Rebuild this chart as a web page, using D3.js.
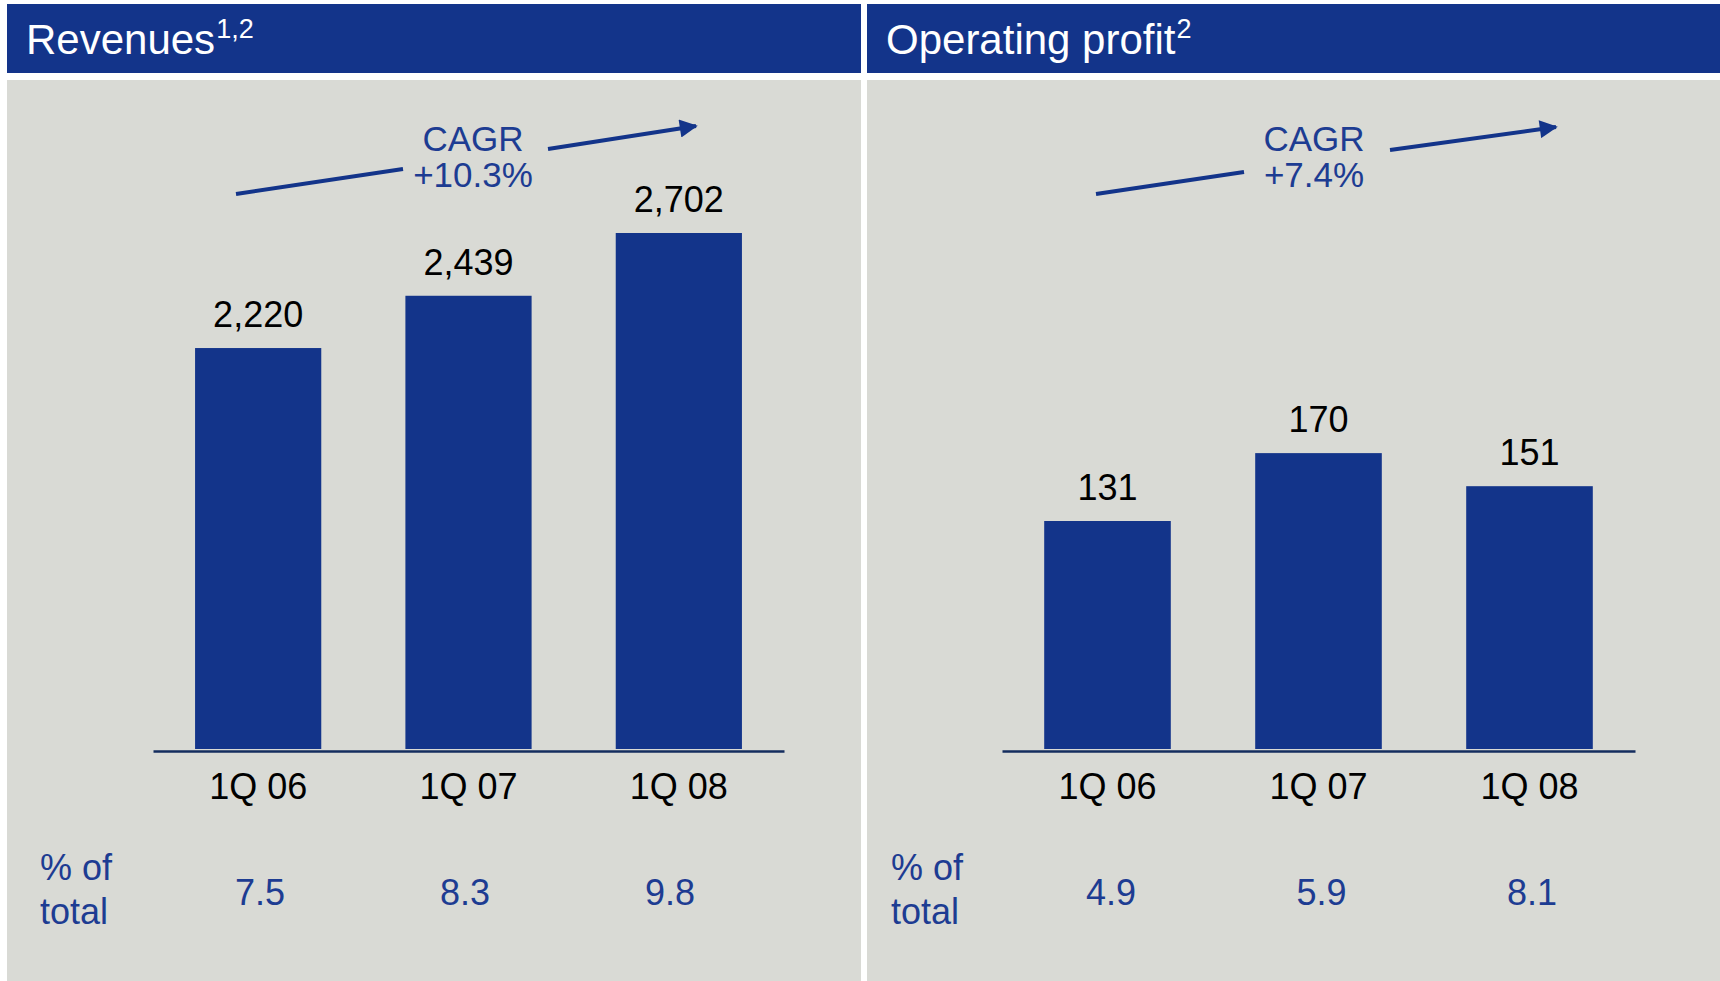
<!DOCTYPE html>
<html>
<head>
<meta charset="utf-8">
<script src="https://cdn.jsdelivr.net/npm/d3@7"></script>
<style>
  body { margin: 0; background: #fff; }
  svg text { font-family: "Liberation Sans", Arial, sans-serif; }
</style>
</head>
<body>
<div id="chart"></div>
<script>
const width = 1720;
const height = 981;

// data
const categories = ["1Q 06", "1Q 07", "1Q 08"];
const revenues = [2220, 2439, 2702];
const operatingProfit = [131, 170, 151];
const revenueShare = ["7.5", "8.3", "9.8"];
const profitShare = ["4.9", "5.9", "8.1"];
const cagrLabels = ["+10.3%", "+7.4%"];

const blue = "#13348a";
const textBlue = "#1d3c92";
const panelBg = "#d9dad5";

const svg = d3.select("#chart")
  .append("svg")
  .attr("width", width)
  .attr("height", height);

svg.append("defs").append("marker")
  .attr("id", "arrow")
  .attr("viewBox", "0 0 10 10")
  .attr("refX", 9)
  .attr("refY", 5)
  .attr("markerWidth", 5.5)
  .attr("markerHeight", 4.5)
  .attr("markerUnits", "strokeWidth")
  .attr("orient", "auto")
  .append("path")
  .attr("d", "M0,0L10,5L0,10Z")
  .attr("fill", blue);

const panels = [
  {
    x0: 7, x1: 861, title: "Revenues", sup: "1,2",
    values: revenues, shares: revenueShare, cagr: cagrLabels[0],
    axis: [153, 784],
    shareRange: [260, 670],
    labelX: 40,
    // the source chart does not start its value axis at zero
    y: d3.scaleLinear().domain([540, 2702]).range([749, 233]),
    cagrX: 473,
    line1: [[236, 194], [403, 169]],
    line2: [[548, 149], [696, 126]]
  },
  {
    x0: 867, x1: 1720, title: "Operating profit", sup: "2",
    values: operatingProfit, shares: profitShare, cagr: cagrLabels[1],
    axis: [1002, 1635],
    shareRange: [1111, 1532],
    labelX: 891,
    y: d3.scaleLinear().domain([0, 131]).range([749, 521]),
    cagrX: 1314,
    line1: [[1096, 194], [1244, 172]],
    line2: [[1390, 150], [1556, 127]]
  }
];

panels.forEach(p => {
  const g = svg.append("g");

  // header
  g.append("rect")
    .attr("x", p.x0).attr("y", 4)
    .attr("width", p.x1 - p.x0).attr("height", 69)
    .attr("fill", blue);

  const title = g.append("text")
    .attr("x", p.x0 + 19).attr("y", 54)
    .attr("fill", "#fff")
    .attr("font-size", 42)
    .text(p.title);
  title.append("tspan")
    .attr("font-size", 27)
    .attr("dx", 1)
    .attr("dy", -16)
    .text(p.sup);

  // body
  g.append("rect")
    .attr("x", p.x0).attr("y", 80)
    .attr("width", p.x1 - p.x0).attr("height", height - 80)
    .attr("fill", panelBg);

  const x = d3.scaleBand()
    .domain(categories)
    .range(p.axis)
    .paddingInner(0.4)
    .paddingOuter(0.2);

  g.selectAll(".bar")
    .data(p.values)
    .join("rect")
    .attr("x", (d, i) => x(categories[i]))
    .attr("y", d => p.y(d))
    .attr("width", x.bandwidth())
    .attr("height", d => 749 - p.y(d))
    .attr("fill", blue);

  g.selectAll(".val")
    .data(p.values)
    .join("text")
    .attr("x", (d, i) => x(categories[i]) + x.bandwidth() / 2)
    .attr("y", d => p.y(d) - 21)
    .attr("text-anchor", "middle")
    .attr("font-size", 36)
    .attr("fill", "#000")
    .text(d => d3.format(",")(d));

  // baseline with category labels
  const axis = g.append("g")
    .attr("transform", "translate(0,751)")
    .call(d3.axisBottom(x).tickSize(0).tickPadding(48));
  axis.select(".domain").attr("stroke", "#142d5e").attr("stroke-width", 2.5);
  axis.selectAll("text")
    .attr("font-size", 36)
    .attr("font-family", "'Liberation Sans', Arial, sans-serif")
    .attr("fill", "#000")
    .attr("dy", 0);

  // % of total row
  const lab = g.append("text")
    .attr("fill", textBlue)
    .attr("font-size", 36);
  lab.append("tspan").attr("x", p.labelX).attr("y", 880).text("% of");
  lab.append("tspan").attr("x", p.labelX).attr("y", 924).text("total");

  const sx = d3.scalePoint().domain(categories).range(p.shareRange);
  g.selectAll(".share")
    .data(p.shares)
    .join("text")
    .attr("x", (d, i) => sx(categories[i]))
    .attr("y", 905)
    .attr("text-anchor", "middle")
    .attr("font-size", 36)
    .attr("fill", textBlue)
    .text(d => d);

  // CAGR annotation
  g.append("text")
    .attr("x", p.cagrX).attr("y", 151)
    .attr("fill", textBlue)
    .attr("font-size", 35)
    .attr("text-anchor", "middle")
    .text("CAGR");
  g.append("text")
    .attr("x", p.cagrX).attr("y", 187)
    .attr("fill", textBlue)
    .attr("font-size", 35)
    .attr("text-anchor", "middle")
    .text(p.cagr);

  const line = d3.line();
  g.append("path")
    .attr("d", line(p.line1))
    .attr("stroke", blue)
    .attr("stroke-width", 4)
    .attr("fill", "none");
  g.append("path")
    .attr("d", line(p.line2))
    .attr("stroke", blue)
    .attr("stroke-width", 4)
    .attr("fill", "none")
    .attr("marker-end", "url(#arrow)");
});
</script>
</body>
</html>
